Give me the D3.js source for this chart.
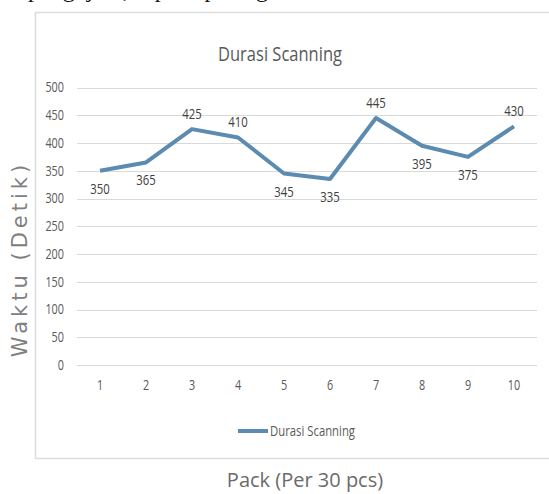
<!DOCTYPE html>
<html><head><meta charset="utf-8">
<script src="https://cdn.jsdelivr.net/npm/d3@7"></script>
<style>
html,body{margin:0;padding:0;background:#fff;}
svg{display:block;}
</style></head>
<body>
<svg id="c" width="549" height="494"></svg>
<script>
const packs = [1,2,3,4,5,6,7,8,9,10];
const durasi = [350,365,425,410,345,335,445,395,375,430];
const labelAbove = [false,false,true,true,false,false,true,false,false,true];
const yTicks = [0,50,100,150,200,250,300,350,400,450,500];
const chartTitle = "Durasi Scanning";
const seriesName = "Durasi Scanning";
const yTitle = "Waktu (Detik)";
const xTitle = "Pack (Per 30 pcs)";
const docText = "pengujian, seperti pada gambar berikut.";

const svg = d3.select("#c");
const lineColor = "#5b8bb0";
const narrow = '"Open Sans",sans-serif';
const condense = (sel, perChar) => sel.attr("textLength", function(){ return this.textContent.length*perChar; })
  .attr("lengthAdjust","spacingAndGlyphs");

// clipped document text above the chart (only descenders visible, as in the source page)
svg.append("text").attr("x",28).attr("y",-3)
  .attr("font-family",'"Liberation Serif","DejaVu Serif",serif').attr("font-size",24)
  .attr("fill","#111").text(docText);

// chart box
svg.append("rect").attr("x",35.5).attr("y",12.5).attr("width",560).attr("height",446)
  .attr("fill","#fff").attr("stroke","#dcdcdc").attr("stroke-width",1.5);

const x = d3.scaleBand().domain(packs).range([77,537]);
const y = d3.scaleLinear().domain([0,500]).range([365,87.5]);

// gridlines
svg.append("g").selectAll("line").data(yTicks).join("line")
  .attr("x1",77).attr("x2",537).attr("y1",d=>Math.round(y(d))+0.5).attr("y2",d=>Math.round(y(d))+0.5)
  .attr("stroke","#d9d9d9").attr("stroke-width",1);

// y axis
const yAxis = svg.append("g").attr("transform","translate(64,0)")
  .call(d3.axisLeft(y).tickValues(yTicks).tickSize(0).tickPadding(0));
yAxis.select(".domain").remove();
yAxis.selectAll("text").attr("font-family",narrow).attr("font-size",14).attr("fill","#595959");
condense(yAxis.selectAll("text"), 6.2);

// x axis
const xAxis = svg.append("g").attr("transform","translate(0,380)")
  .call(d3.axisBottom(x).tickSize(0).tickPadding(0));
xAxis.select(".domain").remove();
xAxis.selectAll("text").attr("font-family",narrow).attr("font-size",14).attr("fill","#595959");
condense(xAxis.selectAll("text"), 6.2);

// line
const line = d3.line().x((d,i)=>x(packs[i])+x.bandwidth()/2).y(d=>y(d));
svg.append("path").datum(durasi).attr("d",line).attr("fill","none")
  .attr("stroke",lineColor).attr("stroke-width",4).attr("stroke-linejoin","round");

// data labels
const dl = svg.append("g").selectAll("text").data(durasi).join("text")
  .attr("x",(d,i)=>x(packs[i])+x.bandwidth()/2)
  .attr("y",(d,i)=>labelAbove[i] ? y(d)-10 : y(d)+23)
  .attr("text-anchor","middle").attr("font-family",narrow).attr("font-size",15)
  .attr("fill","#404040").text(d=>d);
condense(dl, 6.5);

// title
svg.append("text").attr("x",280).attr("y",61).attr("text-anchor","middle")
  .attr("font-family",narrow).attr("font-size",20).attr("fill","#595959")
  .attr("textLength",124).attr("lengthAdjust","spacingAndGlyphs").text(chartTitle);

// legend
svg.append("line").attr("x1",238).attr("x2",268).attr("y1",431).attr("y2",431)
  .attr("stroke",lineColor).attr("stroke-width",4);
svg.append("text").attr("x",270).attr("y",436).attr("font-family",narrow).attr("font-size",14)
  .attr("fill","#595959").attr("textLength",85).attr("lengthAdjust","spacingAndGlyphs").text(seriesName);

// axis titles
svg.append("text").attr("transform","translate(27,259) rotate(-90)").attr("text-anchor","middle")
  .attr("font-family",'"DejaVu Sans",sans-serif').attr("font-size",21).attr("letter-spacing",4)
  .attr("fill","#808080").text(yTitle);
svg.append("text").attr("x",305).attr("y",487).attr("text-anchor","middle")
  .attr("font-family",'"Open Sans",sans-serif').attr("font-size",20)
  .attr("fill","#6b6b6b").text(xTitle);
</script>
</body></html>
